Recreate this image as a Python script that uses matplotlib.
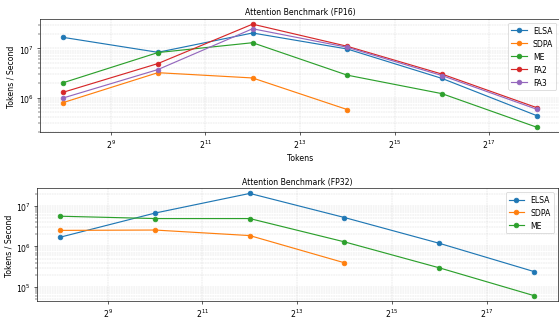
import matplotlib
matplotlib.use("Agg")
import matplotlib.pyplot as plt
from matplotlib.ticker import NullLocator

# === Data (tokens vs throughput) ===
tokens = [2**8, 2**10, 2**12, 2**14, 2**16, 2**18]

fp16_elsa = [1.67e7, 8.3e6, 2.05e7, 9.7e6, 2.45e6, 4.3e5]
fp16_sdpa = [7.9e5, 3.2e6, 2.5e6, 5.7e5]
fp16_me = [2.0e6, 8.2e6, 1.3e7, 2.85e6, 1.2e6, 2.5e5]
fp16_fa2 = [1.28e6, 4.9e6, 3.1e7, 1.1e7, 3.0e6, 6.25e5]
fp16_fa3 = [9.8e5, 3.7e6, 2.5e7, 1.05e7, 2.8e6, 5.8e5]

fp32_elsa = [1.7e6, 6.7e6, 2.05e7, 5.2e6, 1.2e6, 2.4e5]
fp32_sdpa = [2.5e6, 2.55e6, 1.86e6, 3.95e5]
fp32_me = [5.6e6, 4.9e6, 4.9e6, 1.3e6, 2.97e5, 6.1e4]

# figure is 559x323 px
fig = plt.figure(figsize=(10, 5.778), dpi=55.9)
ax1 = fig.add_axes([0.0707, 0.5873, 0.9315, 0.3508])
ax2 = fig.add_axes([0.0655, 0.0659, 0.932, 0.348])


def style_axis(ax, title):
    ax.set_xscale('log', base=2)
    ax.set_yscale('log')
    ax.xaxis.set_minor_locator(NullLocator())
    ax.set_title(title, fontsize=10)
    ax.set_xlabel('Tokens')
    ax.set_ylabel('Tokens / Second')
    ax.grid(True, which='both', linestyle='--', linewidth=0.6, alpha=0.5)
    ax.legend(loc='upper right')


# --- FP16 ---
ax1.plot(tokens, fp16_elsa, marker='o', label='ELSA')
ax1.plot(tokens[:len(fp16_sdpa)], fp16_sdpa, marker='o', label='SDPA')
ax1.plot(tokens, fp16_me, marker='o', label='ME')
ax1.plot(tokens, fp16_fa2, marker='o', label='FA2')
ax1.plot(tokens, fp16_fa3, marker='o', label='FA3')
style_axis(ax1, 'Attention Benchmark (FP16)')

# --- FP32 ---
ax2.plot(tokens, fp32_elsa, marker='o', label='ELSA')
ax2.plot(tokens[:len(fp32_sdpa)], fp32_sdpa, marker='o', label='SDPA')
ax2.plot(tokens, fp32_me, marker='o', label='ME')
style_axis(ax2, 'Attention Benchmark (FP32)')

fig.savefig('out.png', dpi=55.9)
